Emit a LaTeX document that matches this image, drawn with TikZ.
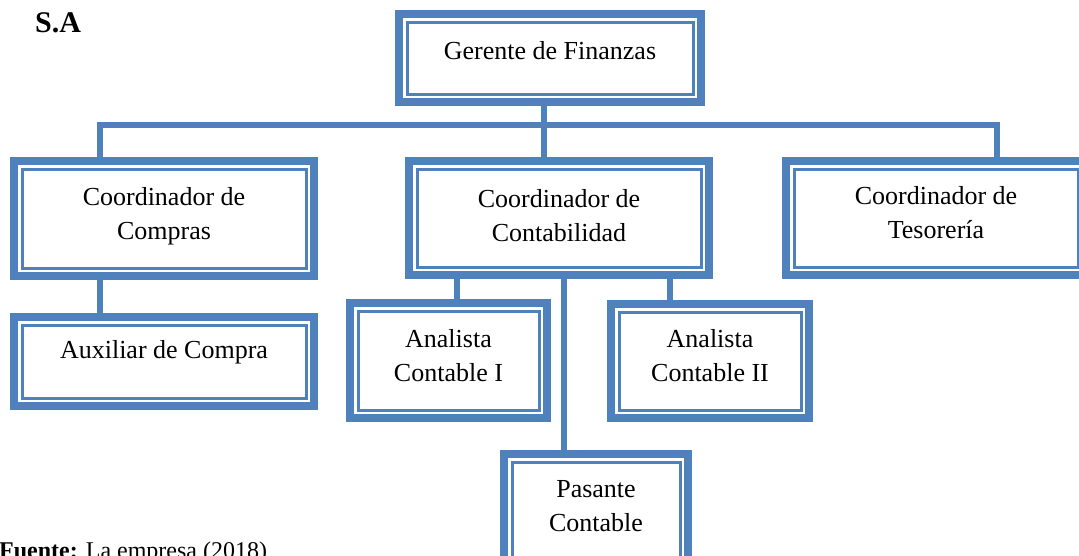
\documentclass[tikz,border=0pt]{standalone}
\usepackage{fontspec}
\setmainfont{Liberation Serif}
\definecolor{ob}{RGB}{79,129,189}
\tikzset{
  obox/.style={draw=ob, line width=8pt, inner sep=0pt, fill=white},
  obinner/.style={draw=ob, line width=3pt},
  conn/.style={draw=ob, line width=6.5pt, line join=miter},
  txt/.style={align=center, inner sep=0pt, font=\fontsize{26}{34}\selectfont}
}
\newcommand{\orgbox}[5]{%
  \node[obox, minimum width={#4-#2-8}, minimum height={#5-#3-8}] (#1) at ({(#2+#4)/2},{(#3+#5)/2}) {};
  \draw[obinner] ({#2+12},{#3+12}) rectangle ({#4-12},{#5-12});
}
\begin{document}
\begin{tikzpicture}[x=1pt,y=-1pt]
\clip (0,0) rectangle (1079,555);
\useasboundingbox (0,0) rectangle (1079,555);

% boxes
\orgbox{ger}{395}{10}{705}{106}
\orgbox{comp}{10}{157}{318}{280}
\orgbox{cont}{405}{157}{713}{279}
\orgbox{tes}{782}{157}{1090}{279}
\orgbox{aux}{10}{313}{318}{410}
\orgbox{anI}{346}{299}{551}{422}
\orgbox{anII}{607}{300}{813}{422}
\orgbox{pas}{500}{450}{692}{580}

% connector coordinates
\coordinate (b1) at (100,125);
\coordinate (b2) at (544,125);
\coordinate (b3) at (997,125);
\coordinate (c1) at (457,0);
\coordinate (c2) at (670,0);
\coordinate (c3) at (564,0);

% connectors
\draw[conn] (b2 |- ger.south) -- (b2);
\draw[conn] (b1 |- comp.north) |- (b3) -- (b3 |- tes.north);
\draw[conn] (b2) -- (b2 |- cont.north);
\draw[conn] (b1 |- comp.south) -- (b1 |- aux.north);
\draw[conn] (c1 |- cont.south) -- (c1 |- anI.north);
\draw[conn] (c2 |- cont.south) -- (c2 |- anII.north);
\draw[conn] (c3 |- cont.south) -- (c3 |- pas.north);

% texts
\node[txt] (gert) at (550,50.5) {Gerente de Finanzas};
\node[txt] (compt) at (164,216) {Coordinador de\\Compras};
\node[txt] (contt) at (559,216) {Coordinador de\\Contabilidad};
\node[txt] (test) at (936,213) {Coordinador de\\Tesorería};
\node[txt] (auxt) at (164,352) {Auxiliar de Compra};
\node[txt] (anIt) at (448.5,355.6) {Analista\\Contable I};
\node[txt] (anIIt) at (710,355.5) {Analista\\Contable II};
\node[txt] (past) at (596,506) {Pasante\\Contable};

\node[anchor=base west, inner sep=0pt, font=\fontsize{30}{36}\selectfont\bfseries] (sa) at (35,32) {S.A};
\node[anchor=base west, inner sep=0pt, font=\fontsize{24}{29}\selectfont] (fuente) at (-1,558) {\textbf{Fuente:} La empresa (2018)};
\end{tikzpicture}
\end{document}
